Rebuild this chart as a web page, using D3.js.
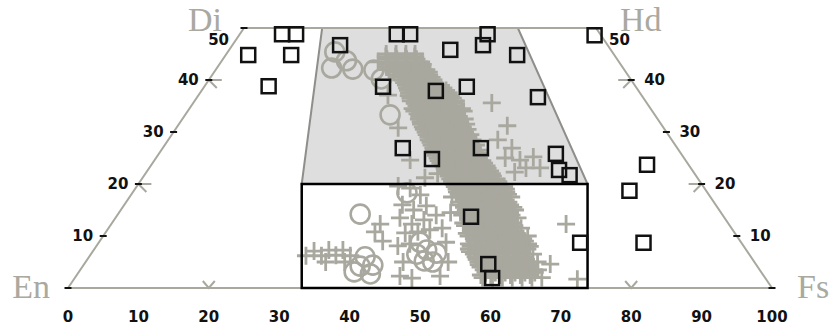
<!DOCTYPE html>
<html><head><meta charset="utf-8">
<script src="https://cdn.jsdelivr.net/npm/d3@7"></script>
<style>body{margin:0;background:#fff;} svg{display:block}</style>
</head><body><svg id="chart" width="836" height="325"></svg>
<script>
// ---- data (compositions: [Fs, Wo] in mol %) ----
const bottomTicks = [0,10,20,30,40,50,60,70,80,90,100];
const sideTicks = [0,10,20,30,40,50];
const sideLabels = [10,20,30,40,50];
const leftGuides = [20,40];
const rightGuides = [20,40];
const bottomGuides = [20,80];
const endMembers = ["En","Fs","Di","Hd"];
const endMemberFs = [0,100,0,50];
const endMemberWo = [0,0,50,50];
const shadedField = [[11.1,50],[38.9,50],[63.8,20],[23.2,20]];
const boxField = [[23.2,20],[63.8,20],[73.8,0],[33.2,0]];
const squares = [[6.0,48.8],[8.0,48.8],[3.2,44.8],[9.3,44.8],[9.1,38.8],[15.3,46.7],[22.3,48.8],[24.2,48.8],[31.4,45.8],[35.6,46.7],[35.2,48.8],[41.4,44.8],[50.5,48.6],[25.4,38.7],[33.3,37.9],[37.3,38.7],[48.4,36.7],[34.1,26.9],[39.3,24.8],[45.2,26.9],[56.4,25.8],[58.4,22.7],[60.4,21.7],[50.4,13.7],[68.4,8.7],[57.4,4.6],[59.3,1.9],[70.4,23.7],[70.4,18.7],[77.4,8.7]];
const circles = [[15.2,45.4],[16.3,42.3],[17.7,43.7],[19.4,42.1],[22.5,41.9],[24.4,40.2],[29.1,33.3],[34.4,14.2],[39.2,6.0],[41.1,4.4],[39.1,3.1],[41.6,2.7],[39.4,4.2],[39.0,18.3],[45.6,8.8],[47.3,7.3],[46.3,6.5],[48.0,5.2],[49.3,5.0],[49.0,6.7]];
// dense band of crosses, listed row by row (Wo, then Fs values)
const plusRowsWo = [45,44.5,44,43.5,43,42.5,42,41.5,41,40.5,40,39.5,39,38.5,38,37.5,37,36.5,36,35.5,35,34.5,34,33.5,33,32.5,32,31.5,31,30.5,30,29.5,29,28.5,28,27.5,27,26.5,26,25.5,25,24.5,24,23.5,23,22.5,22,21.5,21,20.5,20,19.5,19,18.5,18,17.5,17,16.5,16,15.5,15,14.5,14,13.5,13,12.5,12,11.5,11,10.5,10,9.5,9,8.5,8,7.5,7,6.5,6,5.5,5,4.5,4,3.5,3,2.5,2];
const plusRowsFs = [
 [22.7,24.1,25.5,26.8],
 [22.9,24.3,25.7,27],
 [23.3,24.7,26.1,27.5],
 [23.5,24.9,26.3,27.7,28.4],
 [23.8,25.2,26.6,28,28.9],
 [24,25.4,26.8,28.2,29.1],
 [24.6,26,27.4,28.8,29.9],
 [25.5,26.9,28.3,29.7,30.5],
 [26.5,27.9,29.3,30.8],
 [27,28.4,29.8,31.4],
 [27.6,29,30.4,31.9],
 [28,29.4,30.8,32.3],
 [28.5,29.9,31.3,32.8],
 [28.9,30.3,31.7,33.1,33.7],
 [29.3,30.7,32.1,33.5,34.7],
 [29.7,31.1,32.5,33.9,35.3],
 [29.9,31.3,32.7,34.1,35.5,35.9],
 [30.4,31.8,33.2,34.6,36,36.4],
 [30.7,32.1,33.5,34.9,36.3,37.1],
 [31.5,32.9,34.3,35.7,37.1],
 [32,33.4,34.8,36.2,37.6],
 [31.7,33.1,34.5,35.9,37.3,38.7],
 [32.2,33.6,35,36.4,37.8,39.2],
 [32.9,34.3,35.7,37.1,38.5],
 [33.4,34.8,36.2,37.6,39],
 [33.6,35,36.4,37.8,39.2,40.1],
 [34.1,35.5,36.9,38.3,39.7],
 [34.4,35.8,37.2,38.6,40,40.8],
 [34.9,36.3,37.7,39.1,40.5],
 [35.3,36.7,38.1,39.5,40.9,41.5],
 [35.8,37.2,38.6,40,41.4],
 [36.2,37.6,39,40.4,41.8,42.4],
 [36.7,38.1,39.5,40.9,42.3],
 [37,38.4,39.8,41.2,42.6,43.2],
 [37.5,38.9,40.3,41.7,43.1],
 [37.9,39.3,40.7,42.1,43.5,44.2],
 [38.4,39.8,41.2,42.6,44],
 [38.7,40.1,41.5,42.9,44.3,45],
 [39.2,40.6,42,43.4,44.8,45.4],
 [39.5,40.9,42.3,43.7,45.1,45.8],
 [40,41.4,42.8,44.2,45.6],
 [40.4,41.8,43.2,44.6,46,46.6],
 [40.9,42.3,43.7,45.1,46.5,47.1],
 [41.5,42.9,44.3,45.7,47.1,47.7],
 [42,43.4,44.8,46.2,47.6,48.1],
 [42.4,43.8,45.2,46.6,48,48.7],
 [41.5,42.9,44.3,45.7,47.1,48.5,49.2],
 [43.3,44.7,46.1,47.5,48.9,49.6],
 [43.8,45.2,46.6,48,49.4,50.1],
 [44.3,45.7,47.1,48.5,49.9,50.6],
 [44.8,46.2,47.6,49,50.4,51.1],
 [45.2,46.6,48,49.4,50.8,52.2],
 [45.7,47.1,48.5,49.9,51.3,52.7],
 [46,47.4,48.8,50.2,51.6,53],
 [46.5,47.9,49.3,50.7,52.1,53.5],
 [45.8,47.2,48.6,50,51.4,52.8,54.2],
 [47.7,49.1,50.5,51.9,53.3],
 [47.3,48.7,50.1,51.5,52.9,54.3],
 [47.8,49.2,50.6,52,53.4,54.8],
 [48.5,49.9,51.3,52.7,54.1,55.5],
 [49,50.4,51.8,53.2,54.6,56],
 [47.1,48.5,49.9,51.3,52.7,54.1,55.5],
 [49,50.4,51.8,53.2,54.6,56],
 [50.1,51.5,52.9,54.3,55.7,57.1],
 [50.6,52,53.4,54.8,56.2],
 [49.9,51.3,52.7,54.1,55.5,56.9],
 [50.4,51.8,53.2,54.6,56,57.4],
 [51.6,53,54.4,55.8,57.2,58.6],
 [52.1,53.5,54.9,56.3,57.7],
 [51.4,52.8,54.2,55.6,57,58.4],
 [51.9,53.3,54.7,56.1,57.5,58.9,60.3],
 [52.9,54.3,55.7,57.1,58.5,59.9],
 [53.4,54.8,56.2,57.6,59,60.4],
 [52.7,54.1,55.5,56.9,58.3,59.7,61.1],
 [53.2,54.6,56,57.4,58.8,60.2,61.6],
 [53.2,54.5,55.9,57.3,58.7,60.1,61.5],
 [53.6,55,56.4,57.8,59.2,60.6],
 [54.4,55.8,57.2,58.6,60,61.4,62.8],
 [54.9,56.3,57.7,59.1,60.5,61.9],
 [55.3,56.7,58.1,59.5,60.9,62.3],
 [55.8,57.2,58.6,60,61.4,62.8,64.2],
 [56.1,57.5,58.9,60.3,61.7,63.1],
 [56.6,58,59.4,60.8,62.2,63.6],
 [57.3,58.7,60.1,61.5,62.9,64.3],
 [57.8,59.2,60.6,62,63.4,64.8],
 [57.4,58.8,60.2,61.6,63,64.4],
 [57.9,59.3,60.7,62.1,63.5,64.9,66.3]
];
const plusScatter = [[42.4,35.6],[46.8,31.2],[46.8,28.5],[49.6,26.9],[49.6,25],[51.9,24.6],[53.5,25.2],[53.5,23.1],[55.5,23.1],[52.3,22.3],
 [64.6,12.3],[66.2,4.6],[71.5,1.7],[65.0,3.5],
 [30.7,6.2],[31.4,7.1],[32.9,6.2],[33.4,7.3],[34.9,6.3],[35.4,7.3],[37.0,6.2],[34.1,5.0],[36.8,5.0],
 [38.2,10.8],[40.2,9.0],[38.2,12.3],
 [37.1,19.6],[39.0,19.2],[41.1,17.9],[39.5,16.0],[41.6,15.0],[43.0,15.8],[40.4,13.5],[42.7,12.3],[44.0,13.1],[45.3,14.0],
 [42.6,10.6],[44.3,10.8],[45.8,11.2],[47.4,11.5],[42.8,8.1],[44.3,8.5],[49.3,8.8],[45.1,5.0],[46.0,2.3],[47.9,1.9],[51.7,2.3],[51.5,5.0],
 [22.3,43.5],[26.9,37.1],[31.5,30.8],[36.3,24.6],[40.1,21.2]];

// ---- drawing ----
const svg = d3.select("#chart");
const x = d3.scaleLinear().domain([0,100]).range([68,772]);
const y = d3.scaleLinear().domain([0,50]).range([288,28]);
const px = d => x(d[0] + d[1]/2);
const py = d => y(d[1]);
const GRAY = "#a9a89f";
const line = d3.line().x(px).y(py);

// shaded field
svg.append("path").attr("d", line(shadedField) + "Z")
  .attr("fill","#dedede").attr("stroke","#8e8e8a").attr("stroke-width",2);

// quadrilateral outline
const quad = [[0,0],[0,50],[50,50],[100,0]];
svg.append("path").attr("d", line(quad) + "Z")
  .attr("fill","none").attr("stroke",GRAY).attr("stroke-width",2);

// guide chevrons
const gg = svg.append("g").attr("stroke",GRAY).attr("stroke-width",2).attr("fill","none");
leftGuides.forEach(w => {
  const cx = px([0,w]), cy = py([0,w]);
  gg.append("path").attr("d",`M${cx},${cy}H${cx+13}M${cx},${cy}L${cx+8},${cy+8}`);
});
rightGuides.forEach(w => {
  const cx = px([100-w,w]), cy = py([100-w,w]);
  gg.append("path").attr("d",`M${cx},${cy}H${cx-13}M${cx},${cy}L${cx-8},${cy+8}`);
});
bottomGuides.forEach(v => {
  const cx = x(v), cy = y(0);
  gg.append("path").attr("d",`M${cx-6},${cy-7}L${cx},${cy}L${cx+6},${cy-7}`);
});

// side ticks
const tg = svg.append("g").attr("stroke","#111").attr("stroke-width",2);
sideTicks.forEach(w => {
  const lx = px([0,w]), rx = px([100-w,w]), yy = py([0,w]);
  tg.append("line").attr("x1",lx-3.5).attr("x2",lx+3.5).attr("y1",yy).attr("y2",yy);
  tg.append("line").attr("x1",rx-3.5).attr("x2",rx+3.5).attr("y1",yy).attr("y2",yy);
});

// crosses
const plusPts = [];
plusRowsWo.forEach((w,i) => plusRowsFs[i].forEach(f => plusPts.push([f,w])));
const allPlus = plusPts.concat(plusScatter);
svg.append("g").attr("stroke",GRAY).attr("stroke-width",2.8).attr("fill","none")
  .selectAll("path").data(allPlus).join("path")
  .attr("d", d => `M${px(d)-9},${py(d)}H${px(d)+9}M${px(d)},${py(d)-9}V${py(d)+9}`);

// circles
svg.append("g").selectAll("circle").data(circles).join("circle")
  .attr("cx",px).attr("cy",py).attr("r",9.5)
  .attr("fill","none").attr("stroke",GRAY).attr("stroke-width",2.6);

// box field
svg.append("path").attr("d", line(boxField) + "Z")
  .attr("fill","none").attr("stroke","#000").attr("stroke-width",2.5);

// squares
svg.append("g").selectAll("rect").data(squares).join("rect")
  .attr("x",d => px(d)-7).attr("y",d => py(d)-7).attr("width",14).attr("height",14)
  .attr("fill","none").attr("stroke","#111").attr("stroke-width",2.5);

// tick labels
const lf = "DejaVu Sans, sans-serif";
svg.append("g").selectAll("text").data(bottomTicks).join("text")
  .attr("x",d => x(d)).attr("y",322).attr("text-anchor","middle")
  .attr("font-family",lf).attr("font-weight","bold").attr("font-size",15).attr("fill","#111")
  .text(d => d);
svg.append("g").selectAll("text").data(sideLabels).join("text")
  .attr("x",d => px([0,d]) - (d===50 ? 15 : 10)).attr("y",d => py([0,d]) + (d===50 ? 17 : 5))
  .attr("text-anchor","end")
  .attr("font-family",lf).attr("font-weight","bold").attr("font-size",15).attr("fill","#111")
  .text(d => d);
svg.append("g").selectAll("text").data(sideLabels).join("text")
  .attr("x",d => px([100-d,d]) + 13).attr("y",d => py([100-d,d]) + (d===50 ? 17 : 5))
  .attr("text-anchor","start")
  .attr("font-family",lf).attr("font-weight","bold").attr("font-size",15).attr("fill","#111")
  .text(d => d);

// end-member labels
const emDx = [-18, 25, -22, 24];
const emDy = [10, 10, 3, 3];
const emAnchor = ["end","start","end","start"];
svg.append("g").selectAll("text").data(endMembers).join("text")
  .attr("x",(d,i) => px([endMemberFs[i],endMemberWo[i]]) + emDx[i])
  .attr("y",(d,i) => py([endMemberFs[i],endMemberWo[i]]) + emDy[i])
  .attr("text-anchor",(d,i) => emAnchor[i])
  .attr("font-family","Liberation Serif, serif").attr("font-size",34).attr("fill","#aaa9a0")
  .text(d => d);
</script></body></html>
